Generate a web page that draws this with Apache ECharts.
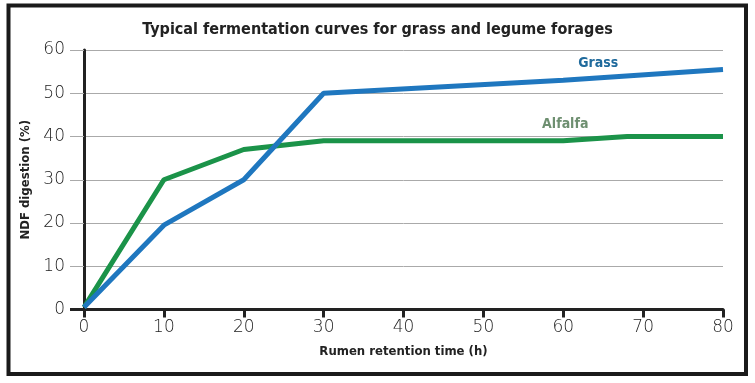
<!DOCTYPE html>
<html>
<head>
<meta charset="utf-8">
<script src="https://cdn.jsdelivr.net/npm/echarts@6/dist/echarts.min.js"></script>
<style>html,body{margin:0;padding:0;background:#fff}#c{width:755px;height:383px}</style>
</head>
<body>
<div id="c"></div>
<script>
const titleText = 'Typical fermentation curves for grass and legume forages';
const xName = 'Rumen retention time (h)';
const yName = 'NDF digestion (%)';
const grassData = [[0, 0.5], [10, 19.5], [20, 30], [30, 50], [60, 53], [80, 55.5]];
const alfalfaData = [[0, 0.5], [10, 30], [20, 37], [30, 39], [60, 39], [68, 40], [80, 40]];
const seriesNames = ['Grass', 'Alfalfa'];
const labelIndex = [4, 4];

const condensed = '"DejaVu Sans Condensed", "Liberation Sans Narrow", sans-serif';
const thin = '"DejaVu Sans", sans-serif';

function withLabel(data, idx, color) {
  return data.map((d, i) => i === idx ? {
    value: d,
    label: { show: true, formatter: '{a}', position: 'top',
      color: color, fontFamily: condensed, fontWeight: 'bold', fontSize: 14 }
  } : d);
}

function lineSeries(name, data, lineColor, labelColor, shift, idx, z) {
  return {
    name: name, type: 'line', data: withLabel(data, idx, labelColor),
    showSymbol: true, symbol: 'circle', symbolSize: 1,
    itemStyle: { color: 'rgba(0,0,0,0)', borderWidth: 0 },
    label: { show: false },
    labelLayout: { hideOverlap: false, dx: shift[0], dy: shift[1] },
    lineStyle: { color: lineColor, width: 5 }, z: z
  };
}

const chart = echarts.init(document.getElementById('c'), null, { renderer: 'canvas' });
chart.setOption({
  animation: false,
  backgroundColor: '#fff',
  title: {
    text: titleText, left: 'center', top: 17,
    textStyle: { fontFamily: condensed, fontWeight: 'bold', fontSize: 16, color: '#222' }
  },
  grid: { left: 84, right: 32, top: 50, bottom: 73.5, containLabel: false },
  xAxis: {
    type: 'value', min: 0, max: 80, interval: 10,
    name: xName, nameLocation: 'middle', nameGap: 36,
    nameTextStyle: { fontFamily: condensed, fontWeight: 'bold', fontSize: 13, color: '#222' },
    axisLine: { lineStyle: { color: '#222', width: 3 } },
    axisTick: { length: 8, lineStyle: { color: '#222', width: 3 } },
    axisLabel: { fontFamily: thin, fontWeight: 200, fontSize: 17, color: '#222', margin: 10 },
    splitLine: { show: false }
  },
  yAxis: [{
    type: 'value', min: 0, max: 60, interval: 10,
    name: yName, nameLocation: 'middle', nameGap: 52,
    nameTextStyle: { fontFamily: condensed, fontWeight: 'bold', fontSize: 13, color: '#222' },
    axisLine: { show: true, lineStyle: { color: '#222', width: 3 } },
    axisTick: { show: true, length: 14, lineStyle: { color: '#aaa', width: 1 } },
    axisLabel: { fontFamily: thin, fontWeight: 200, fontSize: 17, color: '#222', margin: 19 },
    splitLine: { lineStyle: { color: '#aaa', width: 1 } }
  }, {
    type: 'value', min: 0, max: 60, interval: 10, position: 'left',
    axisLine: { show: false },
    axisTick: { show: true, length: 14, customValues: [0], lineStyle: { color: '#222', width: 3 } },
    axisLabel: { show: false },
    splitLine: { show: false }
  }],
  series: [
    lineSeries(seriesNames[0], grassData, '#1f77bf', '#1f6a9c', [35, -4], labelIndex[0], 3),
    lineSeries(seriesNames[1], alfalfaData, '#1b9349', '#6e8f70', [2, -4], labelIndex[1], 2)
  ],
  graphic: [{
    type: 'rect', shape: { x: 8.5, y: 5.5, width: 737.5, height: 368.5 },
    style: { fill: 'none', stroke: '#1a1a1a', lineWidth: 4 }, silent: true, z: 100
  }]
});
</script>
</body>
</html>
